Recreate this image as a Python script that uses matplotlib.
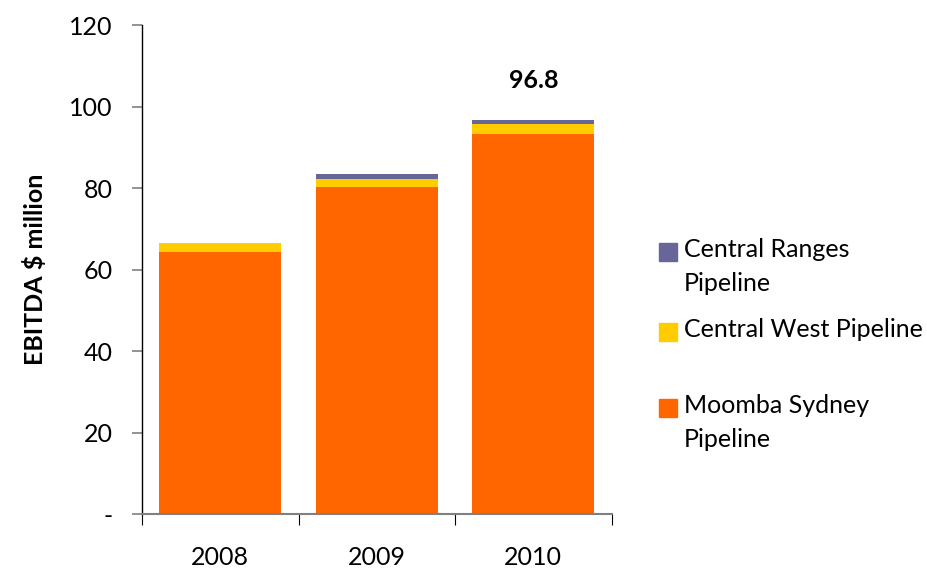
import matplotlib.pyplot as plt
from matplotlib.patches import Rectangle

# data
years = ['2008', '2009', '2010']
moomba = [64.3, 80.3, 93.3]
central_west = [2.2, 1.9, 2.4]
central_ranges = [0.0, 1.3, 1.1]
series_names = ['Central Ranges\nPipeline', 'Central West Pipeline', 'Moomba Sydney\nPipeline']
series_colors = ['#666699', '#FFCC00', '#FF6600']
total_label = '96.8'

plt.rcParams['font.family'] = ['Lato', 'DejaVu Sans']

fig = plt.figure(figsize=(9.28, 5.71), dpi=100)
ax = fig.add_axes([0.153, 0.099, 0.506, 0.857])

x = range(len(years))
w = 0.78
ax.bar(x, moomba, w, color=series_colors[2], zorder=2)
bottom2 = moomba
ax.bar(x, central_west, w, bottom=bottom2, color=series_colors[1], zorder=2)
bottom3 = [a + b for a, b in zip(moomba, central_west)]
ax.bar(x, central_ranges, w, bottom=bottom3, color=series_colors[0], zorder=2)

totals = [a + b for a, b in zip(bottom3, central_ranges)]
ax.annotate(total_label, (2, totals[2]), xytext=(0, 20), textcoords='offset points',
            ha='center', va='bottom', fontsize=18, fontweight='bold')

ax.set_xlim(-0.5, 2.5)
ax.set_ylim(0, 120)
ax.set_xticks(list(x))
ax.set_xticklabels(years, fontsize=18)
ax.set_xticks([-0.5, 0.5, 1.5, 2.5], minor=True)
ax.tick_params(axis='x', which='major', length=0, pad=23)
ax.tick_params(axis='x', which='minor', length=8, color='black', width=0.8, direction='out')

yt = [0, 20, 40, 60, 80, 100, 120]
ax.set_yticks(yt)
ax.set_yticklabels(['-'] + [str(v) for v in yt[1:]], fontsize=18)
ax.tick_params(axis='y', length=7, color='#808080', width=1.2, pad=14)

for s in ['top', 'right']:
    ax.spines[s].set_visible(False)
ax.spines['left'].set_color('black')
ax.spines['left'].set_linewidth(1.0)
ax.spines['bottom'].set_color('#808080')
ax.spines['bottom'].set_linewidth(1.5)

ax.set_ylabel('EBITDA $ million', fontsize=18, fontweight='bold', labelpad=16)

# legend drawn by hand so entries line up with the first text line
leg_y = [252, 332, 408]
for name, col, py in zip(series_names, series_colors, leg_y):
    fig.add_artist(Rectangle((659 / 928, 1 - (py + 9) / 571), 18 / 928, 18 / 571,
                             transform=fig.transFigure, color=col))
    fig.text(684 / 928, 1 - (py - 14) / 571, name, fontsize=18, va='top', ha='left',
             linespacing=1.6)

fig.savefig('out.png', dpi=100)
